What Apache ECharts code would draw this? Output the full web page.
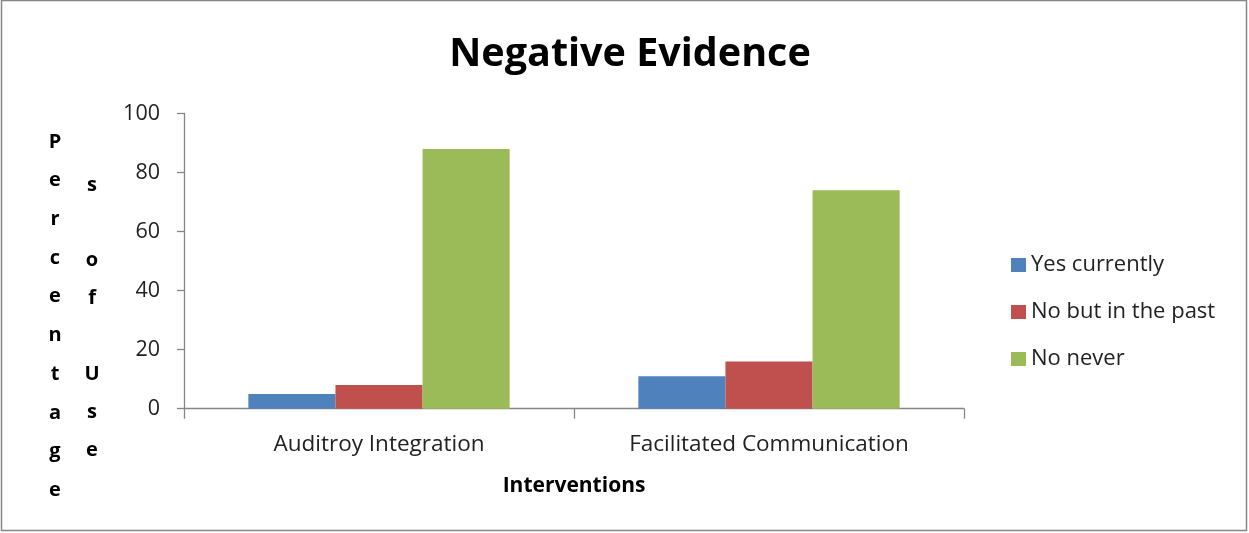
<!DOCTYPE html>
<html><head><meta charset="utf-8">
<script src="https://cdn.jsdelivr.net/npm/echarts@6/dist/echarts.min.js"></script>
<style>html,body{margin:0;padding:0;background:#fff}#c{width:1249px;height:533px}</style>
</head><body><div id="c"></div>
<script>
const categories = ["Auditroy Integration", "Facilitated Communication"];
const seriesNames = ["Yes currently", "No but in the past", "No never"];
const yesCurrently = [5, 11];
const noButPast = [8, 16];
const noNever = [88, 74];
const yTicks = [0, 20, 40, 60, 80, 100];
const yTitleCol1 = "Percentage";
const yTitleCol2 = "s of Use";

const colors = ["#4F81BD", "#C0504D", "#9BBB59"];
const FONT = "Open Sans";
const chart = echarts.init(document.getElementById('c'));
const values = [yesCurrently, noButPast, noNever];
chart.setOption({
  animation: false,
  backgroundColor: '#fff',
  title: {
    text: "Negative Evidence", left: 625, top: 30, textAlign: 'center',
    textStyle: {fontFamily: FONT, fontWeight: 'bold', fontSize: 39.5, color: '#000'}
  },
  legend: {
    orient: 'vertical', left: 1006, top: 249, itemWidth: 15, itemHeight: 14, itemGap: 25,
    icon: 'rect',
    textStyle: {fontFamily: FONT, fontSize: 22, color: '#222', lineHeight: 22},
    data: seriesNames
  },
  grid: {left: 184, right: 285, top: 113.5, bottom: 124.3, containLabel: false},
  xAxis: {
    type: 'category', data: categories,
    name: "Interventions", nameLocation: 'middle', nameGap: 67,
    nameTextStyle: {fontFamily: FONT, fontWeight: 'bold', fontSize: 21, color: '#000'},
    axisLine: {lineStyle: {color: '#868686', width: 1.3}},
    axisTick: {show: true, length: 10, lineStyle: {color: '#868686', width: 1.3}},
    axisLabel: {fontFamily: FONT, fontSize: 22.5, color: '#222', margin: 24}
  },
  yAxis: {
    type: 'value', min: yTicks[0], max: yTicks[yTicks.length-1], interval: yTicks[1]-yTicks[0],
    axisLine: {show: true, lineStyle: {color: '#868686', width: 1.3}},
    axisTick: {show: true, length: 7, lineStyle: {color: '#868686', width: 1.3}},
    splitLine: {show: false},
    axisLabel: {fontFamily: FONT, fontSize: 21.5, color: '#222', margin: 24}
  },
  graphic: [
    {type: 'rect', shape: {x: 1.5, y: 0.5, width: 1245, height: 530}, style: {fill: 'none', stroke: '#868686', lineWidth: 1.5}, silent: true},
    {type: 'text', x: 55, y: 122.6, style: {text: yTitleCol1.split('').join('\n'), fontFamily: FONT, fontWeight: 'bold', fontSize: 20, lineHeight: 38.7, fill: '#000', align: 'center', verticalAlign: 'top'}},
    {type: 'text', x: 92, y: 166, style: {text: yTitleCol2.split('').join('\n'), fontFamily: FONT, fontWeight: 'bold', fontSize: 20, lineHeight: 37.9, fill: '#000', align: 'center', verticalAlign: 'top'}}
  ],
  series: values.map((v, i) => ({
    name: seriesNames[i], type: 'bar', data: v, barGap: '0%', barCategoryGap: '33%',
    itemStyle: {color: colors[i]}
  }))
});
</script></body></html>
